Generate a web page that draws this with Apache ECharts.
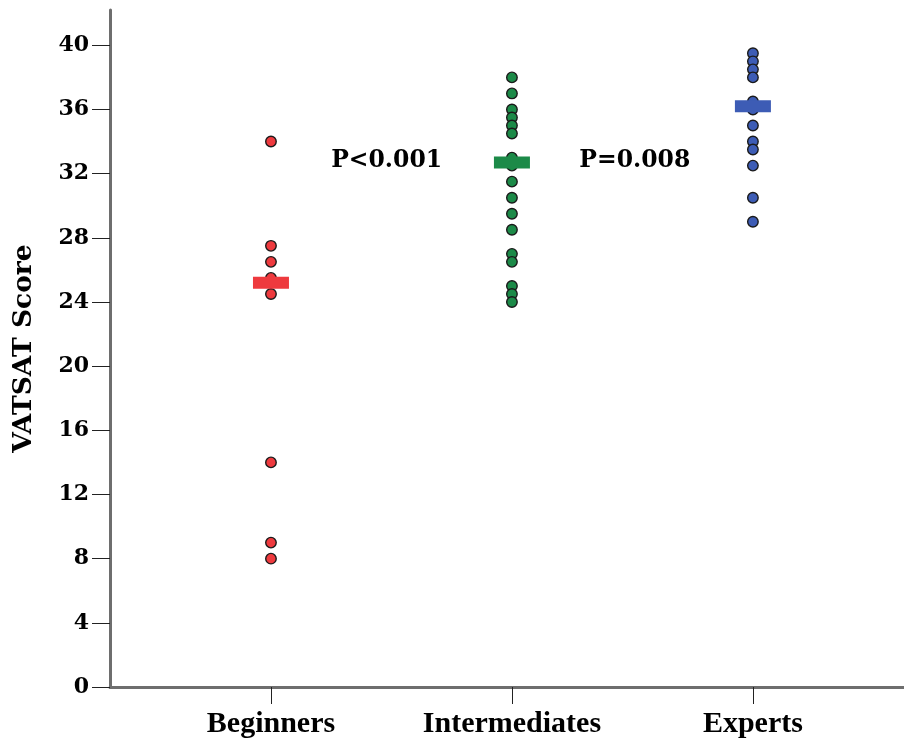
<!DOCTYPE html>
<html>
<head>
<meta charset="utf-8">
<script src="https://cdn.jsdelivr.net/npm/echarts@6/dist/echarts.min.js"></script>
<style>
html,body{margin:0;padding:0;background:#fff;}
#chart{width:904px;height:751px;}
</style>
</head>
<body>
<div id="chart"></div>
<script>
var categories = ['Beginners', 'Intermediates', 'Experts'];
var beginners = [34, 27.5, 26.5, 25.5, 24.5, 14, 9, 8];
var intermediates = [38, 37, 36, 35.5, 35, 34.5, 33, 32.5, 31.5, 30.5, 29.5, 28.5, 27, 26.5, 25, 24.5, 24];
var experts = [39.5, 39, 38.5, 38, 36.5, 36, 35, 34, 33.5, 32.5, 30.5, 29];
var medians = [25.2, 32.7, 36.2];
var yTicks = [0, 4, 8, 12, 16, 20, 24, 28, 32, 36, 40];
var pLabels = ['P<0.001', 'P=0.008'];
var pPositions = [1.48, 2.51];
var pLevel = 32.8;
var colors = ['#ee3a3e', '#1c8a48', '#3d5cb5'];

var groups = [beginners, intermediates, experts];
var series = groups.map(function (vals, gi) {
  return {
    type: 'scatter',
    symbol: 'circle',
    symbolSize: 10.5,
    z: 3,
    itemStyle: { color: colors[gi], borderColor: '#1a1a1a', borderWidth: 1.4, opacity: 1 },
    data: vals.map(function (v) { return [gi + 1, v]; })
  };
});
series.push({
  type: 'scatter',
  symbol: 'rect',
  symbolSize: [36, 12],
  z: 5,
  data: medians.map(function (m, i) {
    return { value: [i + 1, m], itemStyle: { color: colors[i], borderWidth: 0, opacity: 1 } };
  })
});
series.push({
  type: 'scatter',
  symbol: 'circle',
  symbolSize: 1,
  z: 6,
  silent: true,
  itemStyle: { color: '#ffffff', opacity: 1 },
  label: {
    show: true,
    position: 'inside',
    formatter: function (p) { return p.data[2]; },
    fontFamily: 'DejaVu Serif',
    fontWeight: 'bold',
    fontSize: 23.5,
    color: '#000000',
    textBorderWidth: 0
  },
  data: pLabels.map(function (t, i) { return [pPositions[i], pLevel, t]; })
});

var chart = echarts.init(document.getElementById('chart'), null, { renderer: 'canvas' });
chart.setOption({
  backgroundColor: '#ffffff',
  animation: false,
  grid: { left: 110, right: 0, top: 10, bottom: 64, outerBoundsMode: 'none' },
  xAxis: {
    type: 'value',
    min: 0.332,
    max: 3.627,
    splitLine: { show: false },
    axisLine: { show: true, onZero: false, lineStyle: { color: '#6e6e6e', width: 3 } },
    axisTick: { show: true, customValues: [1, 2, 3], length: 17, lineStyle: { color: '#222', width: 1 } },
    axisLabel: {
      customValues: [1, 2, 3],
      margin: 22,
      formatter: function (v) { return categories[Math.round(v) - 1] || ''; },
      fontFamily: 'Liberation Serif',
      fontWeight: 'bold',
      fontSize: 30,
      color: '#000'
    }
  },
  yAxis: {
    type: 'value',
    min: 0,
    max: 42.2,
    splitLine: { show: false },
    name: 'VATSAT Score',
    nameLocation: 'middle',
    nameGap: 72,
    nameTextStyle: { fontFamily: 'DejaVu Serif', fontWeight: 'bold', fontSize: 26.5, color: '#000' },
    axisLine: { show: true, onZero: false, lineStyle: { color: '#6e6e6e', width: 3 } },
    axisTick: { show: true, customValues: yTicks, length: 18, lineStyle: { color: '#222', width: 1 } },
    axisLabel: {
      customValues: yTicks,
      margin: 21,
      fontFamily: 'DejaVu Serif',
      fontWeight: 'bold',
      fontSize: 22,
      color: '#000'
    }
  },
  series: series
});
</script>
</body>
</html>
